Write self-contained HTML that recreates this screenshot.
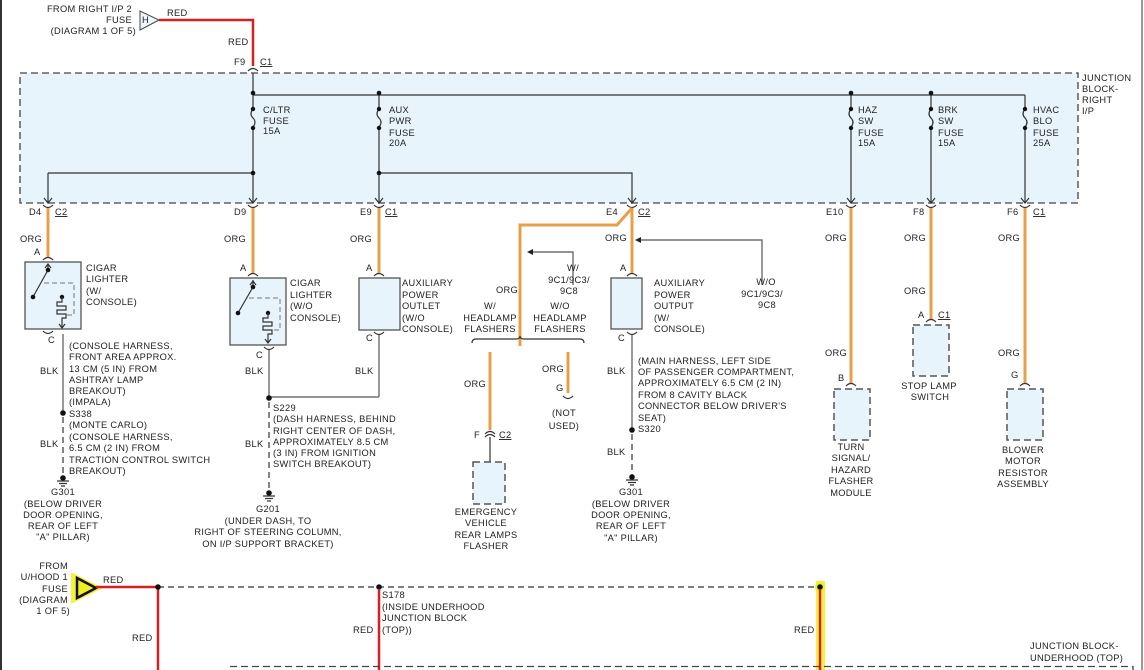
<!DOCTYPE html>
<html><head><meta charset="utf-8"><style>
html,body{margin:0;padding:0;background:#fff;}
svg{display:block;}
text{font-family:"Liberation Sans",Arial,sans-serif;font-size:9.3px;fill:#222;letter-spacing:0.3px;}
.o{stroke:#e8a048;stroke-width:3;fill:none;}
.k{stroke:#333;stroke-width:1.2;fill:none;}
.d{stroke:#333;stroke-width:1.2;fill:none;stroke-dasharray:6,4;}
.g{stroke:#555;stroke-width:1.2;fill:none;}
.r{stroke:#d42020;stroke-width:2.5;fill:none;}
.box{fill:#e8f4fb;stroke:#555;stroke-width:1.3;}
.dbox{fill:#e8f4fb;stroke:#555;stroke-width:1.5;stroke-dasharray:7,4;}
.u{text-decoration:underline;}
</style></head><body>
<svg width="1144" height="670" viewBox="0 0 1144 670" xmlns="http://www.w3.org/2000/svg">
<line x1="1" y1="0" x2="1" y2="670" stroke="#333" stroke-width="2"/>
<line x1="1142" y1="0" x2="1142" y2="670" stroke="#333" stroke-width="1"/>

<!-- junction block -->
<rect x="20" y="73" width="1058" height="130" fill="#e8f4fb" stroke="#444" stroke-width="1.3" stroke-dasharray="7,4"/>
<text x="1082" y="81">JUNCTION</text><text x="1082" y="92">BLOCK-</text><text x="1082" y="103">RIGHT</text><text x="1082" y="114">I/P</text>

<!-- top input -->
<polygon points="140,11 140,30 159,20" fill="#eef6fb" stroke="#444" stroke-width="1"/>
<text x="142" y="23">H</text>
<text x="132" y="12" text-anchor="end">FROM RIGHT I/P 2</text>
<text x="132" y="23" text-anchor="end">FUSE</text>
<text x="136" y="34" text-anchor="end">(DIAGRAM 1 OF 5)</text>
<path class="r" d="M159 20 H253 V66"/>
<text x="167" y="16">RED</text>
<text x="228" y="45">RED</text>
<text x="234" y="65">F9</text><text x="260" y="65" class="u">C1</text>
<path class="k" d="M248 71 Q253 66 258 71"/>

<!-- internal lines -->
<path class="k" d="M253 73 V203"/>
<path class="k" d="M253 95 H1025"/>
<path class="k" d="M48 173 H253 M48 173 V203"/>
<path class="k" d="M379 95 V203 M379 173 H632 V203"/>
<path class="k" d="M851 95 V203 M931 95 V203 M1025 95 V203"/>
<g fill="#111">
<circle cx="253" cy="93" r="2.3"/><circle cx="379" cy="93" r="2.3"/><circle cx="851" cy="93" r="2.3"/><circle cx="931" cy="93" r="2.3"/>
<circle cx="253" cy="173" r="2.3"/><circle cx="379" cy="173" r="2.3"/>
</g>
<!-- fuses -->
<g>
<rect x="249" y="107" width="8" height="22" fill="#e8f4fb"/>
<rect x="375" y="107" width="8" height="22" fill="#e8f4fb"/>
<rect x="847" y="107" width="8" height="22" fill="#e8f4fb"/>
<rect x="927" y="107" width="8" height="22" fill="#e8f4fb"/>
<rect x="1021" y="107" width="8" height="22" fill="#e8f4fb"/>
</g>
<g class="k">
<path d="M253 109 Q249 114 253 118 Q257 122 253 127"/>
<path d="M379 109 Q375 114 379 118 Q383 122 379 127"/>
<path d="M851 109 Q847 114 851 118 Q855 122 851 127"/>
<path d="M931 109 Q927 114 931 118 Q935 122 931 127"/>
<path d="M1025 109 Q1021 114 1025 118 Q1029 122 1025 127"/>
</g>
<g fill="#111">
<circle cx="253" cy="109" r="2.2"/><circle cx="253" cy="128" r="2.2"/>
<circle cx="379" cy="109" r="2.2"/><circle cx="379" cy="128" r="2.2"/>
<circle cx="851" cy="109" r="2.2"/><circle cx="851" cy="128" r="2.2"/>
<circle cx="931" cy="109" r="2.2"/><circle cx="931" cy="128" r="2.2"/>
<circle cx="1025" cy="109" r="2.2"/><circle cx="1025" cy="128" r="2.2"/>
</g>
<text x="263" y="113">C/LTR</text><text x="263" y="124">FUSE</text><text x="263" y="134">15A</text>
<text x="389" y="113">AUX</text><text x="389" y="124">PWR</text><text x="389" y="136">FUSE</text><text x="389" y="146">20A</text>
<text x="858" y="113">HAZ</text><text x="858" y="124">SW</text><text x="858" y="136">FUSE</text><text x="858" y="146">15A</text>
<text x="938" y="113">BRK</text><text x="938" y="124">SW</text><text x="938" y="136">FUSE</text><text x="938" y="146">15A</text>
<text x="1033" y="113">HVAC</text><text x="1033" y="124">BLO</text><text x="1033" y="136">FUSE</text><text x="1033" y="146">25A</text>

<!-- arrowheads at bottom of block -->
<g class="k">
<path d="M44 198 L48 203 L52 198"/><path d="M249 198 L253 203 L257 198"/><path d="M375 198 L379 203 L383 198"/>
<path d="M628 198 L632 203 L636 198"/><path d="M847 198 L851 203 L855 198"/><path d="M927 198 L931 203 L935 198"/><path d="M1021 198 L1025 203 L1029 198"/>
<path d="M43 205 Q48 210 53 205"/><path d="M248 205 Q253 210 258 205"/><path d="M374 205 Q379 210 384 205"/>
<path d="M627 205 Q632 210 637 205"/><path d="M846 205 Q851 210 856 205"/><path d="M926 205 Q931 210 936 205"/><path d="M1020 205 Q1025 210 1030 205"/>
</g>
<text x="29" y="215">D4</text><text x="55" y="215" class="u">C2</text>
<text x="234" y="215">D9</text>
<text x="360" y="215">E9</text><text x="385" y="215" class="u">C1</text>
<text x="606" y="215">E4</text><text x="638" y="215" class="u">C2</text>
<text x="826" y="215">E10</text>
<text x="913" y="215">F8</text>
<text x="1007" y="215">F6</text><text x="1033" y="215" class="u">C1</text>

<!-- col 1: cigar lighter w/ console -->
<path class="o" d="M48 208 V257"/>
<text x="20" y="242">ORG</text><text x="34" y="255">A</text>
<path class="k" d="M43 260 Q48 255 53 260"/>
<rect class="box" x="25" y="262" width="56" height="67"/>
<path class="k" d="M48 264 V268 M45 268 L48 264 L51 268"/>
<path class="k" d="M48 270 L33 297"/><circle cx="48" cy="270" r="2.3" fill="#111"/><circle cx="33" cy="297" r="2.3" fill="#111"/>
<path d="M44 283 H74 V315 H66" stroke="#777" stroke-width="1" stroke-dasharray="5,3" fill="none"/>
<circle cx="62" cy="297" r="2.2" fill="#111"/>
<path class="k" d="M62 297 V302 H57 V306 H66 V310 H57 V314 H66 V318 H62 V327 M59 324 L62 328 L65 324"/>
<path class="k" d="M43 331 Q48 336 53 331"/>
<text x="48" y="343">C</text>
<text x="86" y="271">CIGAR</text><text x="86" y="282">LIGHTER</text><text x="86" y="294">(W/</text><text x="86" y="305">CONSOLE)</text>
<path class="g" d="M63 334 V412"/>
<circle cx="63" cy="413" r="2.8" fill="#111"/>
<path class="d" d="M63 417 V475"/>
<circle cx="63" cy="478" r="2.8" fill="#111"/>
<path class="k" d="M57 481 H69 M59 483.5 H67 M61 486 H65"/>
<text x="40" y="374">BLK</text><text x="40" y="447">BLK</text>
<text x="69" y="349">(CONSOLE HARNESS,</text><text x="69" y="360">FRONT AREA APPROX.</text><text x="69" y="372">13 CM (5 IN) FROM</text><text x="69" y="383">ASHTRAY LAMP</text><text x="69" y="394">BREAKOUT)</text><text x="69" y="405">(IMPALA)</text>
<text x="69" y="417">S338</text><text x="69" y="428">(MONTE CARLO)</text><text x="69" y="440">(CONSOLE HARNESS,</text><text x="69" y="451">6.5 CM (2 IN) FROM</text><text x="69" y="463">TRACTION CONTROL SWITCH</text><text x="69" y="474">BREAKOUT)</text>
<text x="63" y="495" text-anchor="middle">G301</text><text x="63" y="507" text-anchor="middle">(BELOW DRIVER</text><text x="63" y="518" text-anchor="middle">DOOR OPENING,</text><text x="63" y="529" text-anchor="middle">REAR OF LEFT</text><text x="63" y="540" text-anchor="middle">"A" PILLAR)</text>

<!-- col 2: cigar lighter w/o console -->
<path class="o" d="M253 208 V273"/>
<text x="224" y="242">ORG</text><text x="240" y="271">A</text>
<path class="k" d="M248 276 Q253 271 258 276"/>
<rect class="box" x="230" y="278" width="56" height="67"/>
<path class="k" d="M253 280 V286 M250 285 L253 281 L256 285"/>
<path class="k" d="M253 287 L238 313"/><circle cx="253" cy="287" r="2.3" fill="#111"/><circle cx="238" cy="313" r="2.3" fill="#111"/>
<path d="M249 298 H280 V330 H270" stroke="#777" stroke-width="1" stroke-dasharray="5,3" fill="none"/>
<circle cx="268" cy="313" r="2.2" fill="#111"/>
<path class="k" d="M268 313 V318 H263 V322 H272 V326 H263 V330 H272 V334 H268 V342 M265 339 L268 343 L271 339"/>
<path class="k" d="M264 347 Q269 352 274 347"/>
<text x="256" y="358">C</text>
<text x="290" y="286">CIGAR</text><text x="290" y="298">LIGHTER</text><text x="290" y="309">(W/O</text><text x="290" y="321">CONSOLE)</text>
<path class="g" d="M269 350 V397 H379"/>
<circle cx="269" cy="398" r="2.8" fill="#111"/>
<path class="d" d="M269 402 V490"/>
<circle cx="269" cy="493" r="2.8" fill="#111"/>
<path class="k" d="M263 496 H275 M265 498.5 H273 M267 501 H271"/>
<text x="245" y="374">BLK</text><text x="245" y="447">BLK</text>
<text x="273" y="411">S229</text><text x="273" y="422">(DASH HARNESS, BEHIND</text><text x="273" y="434">RIGHT CENTER OF DASH,</text><text x="273" y="445">APPROXIMATELY 8.5 CM</text><text x="273" y="456">(3 IN) FROM IGNITION</text><text x="273" y="467">SWITCH BREAKOUT)</text>
<text x="268" y="512" text-anchor="middle">G201</text><text x="268" y="524" text-anchor="middle">(UNDER DASH, TO</text><text x="268" y="535" text-anchor="middle">RIGHT OF STEERING COLUMN,</text><text x="268" y="547" text-anchor="middle">ON I/P SUPPORT BRACKET)</text>

<!-- col 3: aux power outlet -->
<path class="o" d="M379 208 V273"/>
<text x="350" y="242">ORG</text><text x="366" y="271">A</text>
<path class="k" d="M374 276 Q379 271 384 276"/>
<rect class="box" x="359" y="278" width="41" height="52"/>
<path class="k" d="M374 332 Q379 337 384 332"/>
<text x="366" y="341">C</text>
<text x="402" y="286">AUXILIARY</text><text x="402" y="298">POWER</text><text x="402" y="309">OUTLET</text><text x="402" y="321">(W/O</text><text x="402" y="332">CONSOLE)</text>
<path class="g" d="M379 335 V397"/>
<text x="355" y="374">BLK</text>

<!-- col 4: headlamp flashers & aux output -->
<path class="o" d="M632 208 V273 M632 208 L617 225 H520 V346"/>
<text x="496" y="293">ORG</text>
<text x="605" y="241">ORG</text>
<path class="g" d="M573 285 V252 H530"/><path d="M527 252 L533 249 L533 255 Z" fill="#222"/>
<text x="573" y="271" text-anchor="middle">W/</text><text x="569" y="283" text-anchor="middle">9C1/9C3/</text><text x="569" y="294" text-anchor="middle">9C8</text>
<path class="g" d="M762 285 V240 H640"/><path d="M635 240 L641 237 L641 243 Z" fill="#222"/>
<text x="766" y="285" text-anchor="middle">W/O</text><text x="762" y="297" text-anchor="middle">9C1/9C3/</text><text x="767" y="308" text-anchor="middle">9C8</text>
<text x="490" y="309" text-anchor="middle">W/</text><text x="490" y="321" text-anchor="middle">HEADLAMP</text><text x="490" y="332" text-anchor="middle">FLASHERS</text>
<text x="560" y="309" text-anchor="middle">W/O</text><text x="560" y="321" text-anchor="middle">HEADLAMP</text><text x="560" y="332" text-anchor="middle">FLASHERS</text>
<path class="k" stroke-width="1" d="M472 343 Q472 339 476 339 H516 Q520 339 520 336 Q520 339 524 339 H580 Q584 339 584 343"/>
<path class="o" d="M490 352 V430"/>
<text x="464" y="387">ORG</text>
<text x="474" y="438">F</text><text x="499" y="438" class="u">C2</text>
<path class="k" d="M485 437 Q490 432 495 437 M485 434 Q490 429 495 434"/>
<path class="k" stroke-width="1.5" d="M490 437 V462"/>
<rect class="dbox" x="473" y="462" width="32" height="42"/>
<text x="486" y="515" text-anchor="middle">EMERGENCY</text><text x="486" y="526" text-anchor="middle">VEHICLE</text><text x="486" y="538" text-anchor="middle">REAR LAMPS</text><text x="486" y="549" text-anchor="middle">FLASHER</text>
<path class="o" d="M568 352 V393"/>
<text x="542" y="372">ORG</text><text x="556" y="391">G</text>
<path class="k" d="M563 396 Q568 401 573 396"/>
<text x="564" y="416" text-anchor="middle">(NOT</text><text x="564" y="429" text-anchor="middle">USED)</text>
<text x="620" y="271">A</text>
<path class="k" d="M627 276 Q632 271 637 276"/>
<rect class="box" x="611" y="278" width="31" height="51"/>
<path class="k" d="M627 332 Q632 337 637 332"/>
<text x="618" y="341">C</text>
<text x="654" y="286">AUXILIARY</text><text x="654" y="298">POWER</text><text x="654" y="309">OUTPUT</text><text x="654" y="321">(W/</text><text x="654" y="332">CONSOLE)</text>
<path class="g" d="M632 335 V429"/>
<circle cx="632" cy="430" r="2.8" fill="#111"/>
<path class="d" d="M632 434 V475"/>
<circle cx="632" cy="477" r="2.8" fill="#111"/>
<path class="k" d="M626 480 H638 M628 482.5 H636 M630 485 H634"/>
<text x="607" y="374">BLK</text><text x="607" y="455">BLK</text>
<text x="638" y="364">(MAIN HARNESS, LEFT SIDE</text><text x="638" y="375">OF PASSENGER COMPARTMENT,</text><text x="638" y="386">APPROXIMATELY 6.5 CM (2 IN)</text><text x="638" y="398">FROM 8 CAVITY BLACK</text><text x="638" y="409">CONNECTOR BELOW DRIVER'S</text><text x="638" y="421">SEAT)</text><text x="638" y="432">S320</text>
<text x="631" y="495" text-anchor="middle">G301</text><text x="631" y="507" text-anchor="middle">(BELOW DRIVER</text><text x="631" y="518" text-anchor="middle">DOOR OPENING,</text><text x="631" y="529" text-anchor="middle">REAR OF LEFT</text><text x="631" y="541" text-anchor="middle">"A" PILLAR)</text>

<!-- right columns -->
<path class="o" d="M851 208 V384"/>
<text x="825" y="241">ORG</text><text x="825" y="356">ORG</text><text x="838" y="381">B</text>
<path class="k" d="M846 386 Q851 381 856 386"/>
<rect class="dbox" x="834" y="389" width="36" height="51"/>
<text x="851" y="450" text-anchor="middle">TURN</text><text x="851" y="461" text-anchor="middle">SIGNAL/</text><text x="851" y="473" text-anchor="middle">HAZARD</text><text x="851" y="484" text-anchor="middle">FLASHER</text><text x="851" y="496" text-anchor="middle">MODULE</text>

<path class="o" d="M931 208 V320"/>
<text x="904" y="241">ORG</text><text x="904" y="294">ORG</text>
<text x="918" y="318">A</text><text x="938" y="318" class="u">C1</text>
<path class="k" d="M926 322 Q931 317 936 322"/>
<rect class="dbox" x="913" y="325" width="36" height="51"/>
<text x="929" y="389" text-anchor="middle">STOP LAMP</text><text x="930" y="400" text-anchor="middle">SWITCH</text>

<path class="o" d="M1025 208 V384"/>
<text x="998" y="241">ORG</text><text x="998" y="356">ORG</text><text x="1011" y="378">G</text>
<path class="k" d="M1020 386 Q1025 381 1030 386"/>
<rect class="dbox" x="1007" y="389" width="36" height="51"/>
<text x="1023" y="453" text-anchor="middle">BLOWER</text><text x="1023" y="464" text-anchor="middle">MOTOR</text><text x="1023" y="476" text-anchor="middle">RESISTOR</text><text x="1023" y="487" text-anchor="middle">ASSEMBLY</text>

<!-- bottom section -->
<polygon points="71,572 71,604 103,588" fill="#f0f020" opacity="0.85"/>
<polygon points="77,578 77,598 96,588" fill="#f0f020" stroke="#111" stroke-width="2.5"/>
<text x="68" y="569" text-anchor="end">FROM</text><text x="68" y="580" text-anchor="end">U/HOOD 1</text><text x="68" y="592" text-anchor="end">FUSE</text><text x="68" y="603" text-anchor="end">(DIAGRAM</text><text x="70" y="614" text-anchor="end">1 OF 5)</text>
<path class="r" stroke-width="2" d="M96 587 H158 V670"/>
<text x="103" y="583">RED</text>
<text x="132" y="641">RED</text>
<path class="d" stroke="#666" stroke-width="1" d="M158 587 H820"/>
<circle cx="158" cy="587" r="2.8" fill="#111"/>
<circle cx="379" cy="587" r="2.8" fill="#111"/>
<path class="r" stroke-width="2" d="M379 590 V670"/>
<text x="382" y="598">S178</text><text x="382" y="610">(INSIDE UNDERHOOD</text><text x="382" y="621">JUNCTION BLOCK</text><text x="382" y="633">(TOP))</text>
<text x="353" y="633">RED</text>
<rect x="816" y="581" width="9" height="89" fill="#f0f020" opacity="0.85"/>
<circle cx="820" cy="587" r="5" fill="#f0f020"/>
<circle cx="820" cy="587" r="2.8" fill="#111"/>
<path class="r" stroke-width="2" d="M820 590 V670"/>
<text x="794" y="633">RED</text>
<text x="1030" y="649">JUNCTION BLOCK-</text><text x="1030" y="661">UNDERHOOD (TOP)</text>
<path d="M230 666.5 H1133 V670" stroke="#445" stroke-width="1.3" stroke-dasharray="7,4" fill="none"/>
</svg>
</body></html>
